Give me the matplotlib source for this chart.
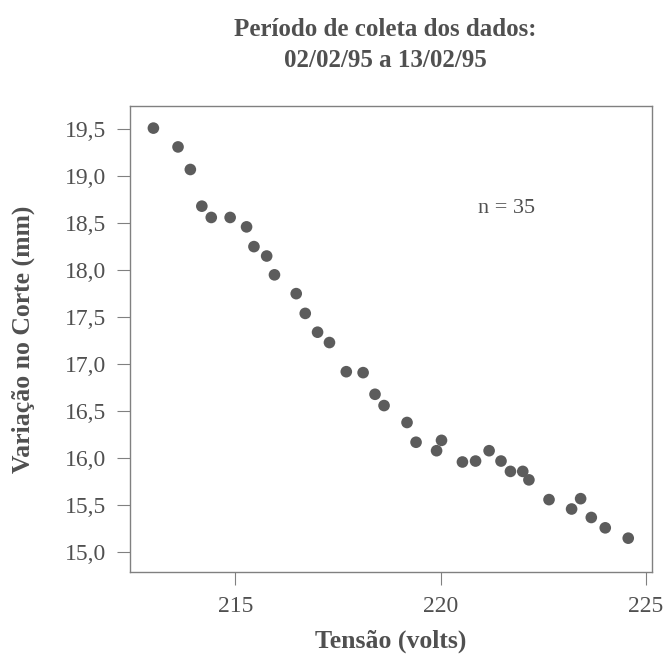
import matplotlib
matplotlib.use("Agg")
import matplotlib.pyplot as plt

# Tensão (volts) x Variação no Corte (mm), n = 35
tensao = [213.0, 213.6, 213.9, 214.18, 214.41, 214.87, 215.27, 215.45, 215.76,
          215.95, 216.48, 216.7, 217.0, 217.29, 217.7, 218.11, 218.4, 218.62,
          219.18, 219.4, 220.02, 219.9, 220.53, 220.85, 221.18, 221.47, 221.7,
          222.0, 222.15, 222.64, 223.19, 223.41, 223.67, 224.01, 224.57]
variacao = [19.51, 19.31, 19.07, 18.68, 18.56, 18.56, 18.46, 18.25, 18.15,
            17.95, 17.75, 17.54, 17.34, 17.23, 16.92, 16.91, 16.68, 16.56,
            16.38, 16.17, 16.19, 16.08, 15.96, 15.97, 16.08, 15.97, 15.86,
            15.86, 15.77, 15.56, 15.46, 15.57, 15.37, 15.26, 15.15]

x_ticks = [215, 220, 225]
y_ticks = [15.0, 15.5, 16.0, 16.5, 17.0, 17.5, 18.0, 18.5, 19.0, 19.5]

plt.rcParams['font.family'] = ['Liberation Serif', 'DejaVu Serif']
text_color = '#505050'
edge_color = '#808080'

fig = plt.figure(figsize=(6.65, 6.56), dpi=100)
ax = fig.add_axes([0.1955, 0.128, 0.785, 0.7104])

ax.scatter(tensao, variacao, s=70, color='#5c5c5c', edgecolors='none', zorder=3)

ax.set_xlim(212.43, 225.15)
ax.set_ylim(14.79, 19.745)
ax.set_xticks(x_ticks)
ax.set_xticklabels([str(t) for t in x_ticks])
ax.set_yticks(y_ticks)
ax.set_yticklabels([f"{t:.1f}".replace('.', ',') for t in y_ticks])

ax.tick_params(direction='out', length=9.4, width=0.8, color=edge_color,
               labelsize=17, labelcolor=text_color, pad=8)
for sp in ax.spines.values():
    sp.set_color(edge_color)
    sp.set_linewidth(1.0)

ax.set_xlabel('Tensão (volts)', fontsize=18.5, fontweight='bold', color=text_color, labelpad=9)
ax.set_ylabel('Variação no Corte (mm)', fontsize=18.5, fontweight='bold', color=text_color, labelpad=21)

fig.text(0.58, 0.972, 'Período de coleta dos dados:\n02/02/95 a 13/02/95',
         ha='center', va='top', fontsize=18, fontweight='bold', color=text_color,
         linespacing=1.4)

ax.text(221.6, 18.66, 'n = 35', fontsize=16, color=text_color, ha='center', va='center')

fig.savefig('out.png', dpi=100, facecolor='white')
